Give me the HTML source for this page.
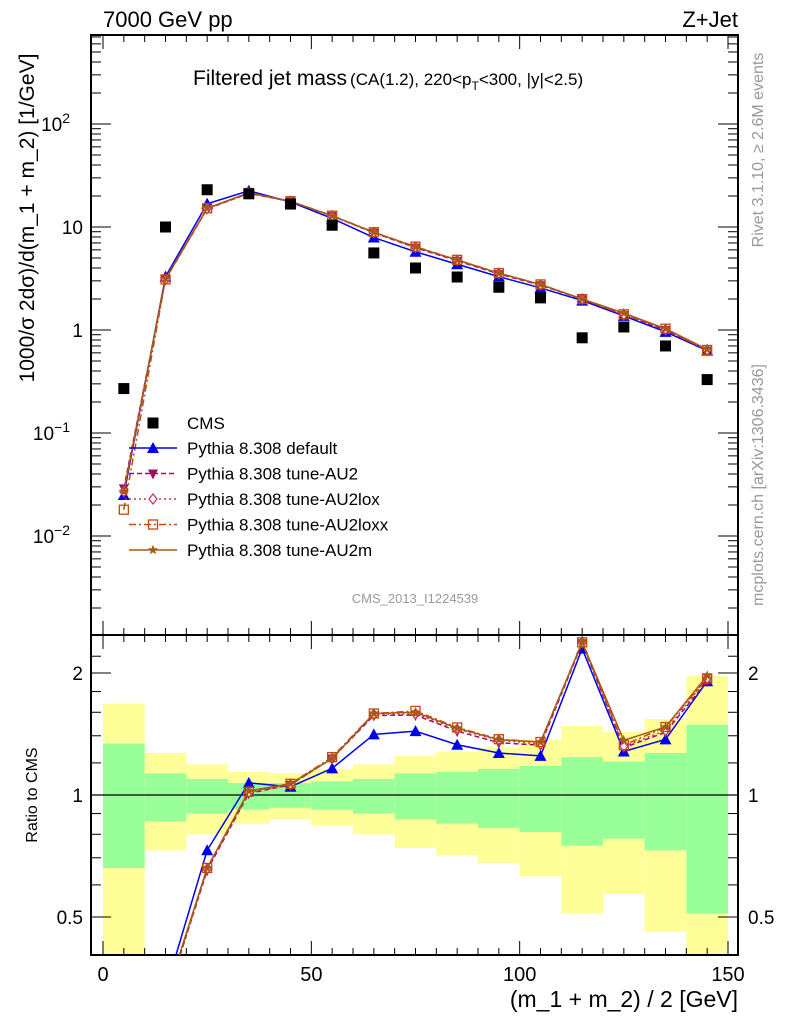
<!DOCTYPE html>
<html><head><meta charset="utf-8"><style>
html,body{margin:0;padding:0;background:#fff;width:786px;height:1024px;overflow:hidden;}
svg{display:block;font-family:"Liberation Sans",Arial,sans-serif;}
</style></head><body>
<svg id="c" width="786" height="1024" viewBox="0 0 786 1024" xmlns="http://www.w3.org/2000/svg"></svg>
<script>
const binCenters=[5,15,25,35,45,55,65,75,85,95,105,115,125,135,145];
const cmsValues=[0.27,10,23,21,16.7,10.4,5.6,4.0,3.27,2.6,2.05,0.84,1.07,0.70,0.33];
const defaultValues=[0.025,3.3,16.8,22.5,17.5,12.1,7.9,5.75,4.35,3.3,2.56,1.93,1.37,0.96,0.63];
const au2Values=[0.029,3.1,15.0,21.2,17.7,12.8,8.8,6.3,4.7,3.5,2.72,1.99,1.40,1.00,0.63];
const au2loxValues=[0.027,3.1,15.1,21.3,17.7,12.8,8.85,6.35,4.75,3.55,2.74,2.0,1.41,1.01,0.64];
const au2loxxValues=[0.018,3.1,15.2,21.4,17.8,12.9,8.9,6.45,4.8,3.57,2.77,2.0,1.42,1.03,0.64];
const au2mValues=[0.027,3.15,15.2,21.5,17.8,12.8,8.9,6.4,4.78,3.56,2.77,2.0,1.46,1.03,0.65];
const binEdges=[0,10,20,30,40,50,60,70,80,90,100,110,120,130,140,150];
const yellowHi=[1.68,1.27,1.19,1.14,1.13,1.16,1.19,1.25,1.28,1.31,1.37,1.48,1.43,1.54,1.97];
const yellowLo=[0.3,0.73,0.80,0.85,0.87,0.84,0.80,0.74,0.71,0.68,0.63,0.51,0.57,0.46,0.3];
const greenHi=[1.34,1.13,1.095,1.07,1.07,1.08,1.095,1.13,1.14,1.16,1.18,1.24,1.21,1.27,1.49];
const greenLo=[0.66,0.86,0.90,0.92,0.93,0.92,0.90,0.87,0.85,0.83,0.81,0.75,0.78,0.73,0.51];
const xTicks=[0,50,100,150];
const ratioTicks=[0.5,1,2];

const NS="http://www.w3.org/2000/svg";
const svg=document.getElementById('c');
const L=91,R=738,T=35,MB=635,B=955;
const X=v=>103+v*(625/150);
const Y=v=>330-103*Math.log10(v);
const RY=v=>795-122*Math.log2(v);
function el(tag,a,parent){const e=document.createElementNS(NS,tag);for(const k in a)e.setAttribute(k,a[k]);(parent||svg).appendChild(e);return e;}
function txt(s,a,parent){const e=el('text',a,parent);e.textContent=s;return e;}

const bands=el('g',{});


const clip=el('clipPath',{id:'rc'});el('rect',{x:L,y:MB,width:R-L,height:B-MB},clip);
const clipM=el('clipPath',{id:'mc'});el('rect',{x:L,y:T,width:R-L,height:MB-T},clipM);
bands.setAttribute('clip-path','url(#rc)');
for(let i=0;i<binCenters.length;i++){
  const x0=X(binEdges[i]),x1=X(binEdges[i+1]);
  const y1=el('rect',{x:x0,y:RY(yellowHi[i]),width:x1-x0,height:RY(yellowLo[i])-RY(yellowHi[i]),fill:'#ffff99'},bands);
  
  
  const g1=el('rect',{x:x0,y:RY(greenHi[i]),width:x1-x0,height:RY(greenLo[i])-RY(greenHi[i]),fill:'#99ff99'},bands);
  
  
}
el('line',{x1:L,x2:R,y1:RY(1),y2:RY(1),stroke:'#000','stroke-width':1.2});

for(const [y0,y1] of [[T,MB],[MB,B]]){
  const f=el('rect',{x:L,y:y0,width:R-L,height:y1-y0,fill:'none',stroke:'#000','stroke-width':2});
  
  
}
for(let v=0;v<=150;v+=5){
  const x=X(v),big=v%50===0,len=big?14:7;
  el('line',{x1:x,x2:x,y1:T,y2:T+len,stroke:'#000'});
  el('line',{x1:x,x2:x,y1:MB,y2:MB-len,stroke:'#000'});
  el('line',{x1:x,x2:x,y1:MB,y2:MB+len,stroke:'#000'});
  el('line',{x1:x,x2:x,y1:B,y2:B-len,stroke:'#000'});
}
xTicks.forEach(v=>{const t=txt(String(v),{x:X(v),y:981,'font-size':20,'text-anchor':'middle'});
  
  });
for(let d=-3;d<=2;d++){
  for(let m=1;m<10;m++){
    const v=m*Math.pow(10,d),y=Y(v);
    if(y<T||y>MB)continue;
    const len=m===1?20:10;
    el('line',{x1:L,x2:L+len,y1:y,y2:y,stroke:'#000'});
    el('line',{x1:R,x2:R-len,y1:y,y2:y,stroke:'#000'});
  }
}
const yl=[[100,'10','2'],[10,'10',''],[1,'1',''],[0.1,'10','−1'],[0.01,'10','−2']];
yl.forEach(([v,b,e])=>{
  const t=el('text',{x:e?70:83,y:Y(v)+7,'font-size':19,'text-anchor':'end'});
  
  
  if(e){t.textContent=b;const s=el('tspan',{dy:-8,'font-size':14},t);s.textContent=e;}
  else{t.textContent=v===10?'10':'1';t.setAttribute('x',83);}
});
[0.4,0.5,0.6,0.7,0.8,0.9,1,1.2,1.4,1.6,1.8,2,2.2].forEach(v=>{
  const y=RY(v);if(y<MB||y>B)return;
  const big=[0.5,1,2].includes(v),len=big?20:10;
  el('line',{x1:L,x2:L+len,y1:y,y2:y,stroke:'#000'});
  el('line',{x1:R,x2:R-len,y1:y,y2:y,stroke:'#000'});
});
ratioTicks.forEach(v=>{
  const a=txt(String(v),{x:83,y:RY(v)+7,'font-size':19,'text-anchor':'end'});
  
  
  const b=txt(String(v),{x:748,y:RY(v)+7,'font-size':19});
  
  
});

function marker(kind,x,y,col,g){
  const s=5.5;
  if(kind==='sq')return el('rect',{x:x-s,y:y-s,width:2*s,height:2*s,fill:'#000'},g);
  if(kind==='tri')return el('polygon',{points:`${x},${y-6} ${x-6},${y+5} ${x+6},${y+5}`,fill:col},g);
  if(kind==='dtri')return el('polygon',{points:`${x},${y+6} ${x-5},${y-4} ${x+5},${y-4}`,fill:col},g);
  if(kind==='dia')return el('polygon',{points:`${x},${y-5} ${x-4},${y} ${x},${y+5} ${x+4},${y}`,fill:'#fff',stroke:col,'stroke-width':1.3},g);
  if(kind==='osq')return el('rect',{x:x-4.5,y:y-4.5,width:9,height:9,fill:'none',stroke:col,'stroke-width':1.3},g);
  if(kind==='star'){let p=[];for(let i=0;i<10;i++){const r=i%2?2.2:5.5,a=-Math.PI/2+i*Math.PI/5;p.push((x+r*Math.cos(a)).toFixed(1)+','+(y+r*Math.sin(a)).toFixed(1));}
    return el('polygon',{points:p.join(' '),fill:col},g);}
}
const series=[
 {name:'default',vals:defaultValues,col:'#0000ee',dash:'',m:'tri',label:'Pythia 8.308 default'},
 {name:'au2',vals:au2Values,col:'#a0105a',dash:'5,3',m:'dtri',label:'Pythia 8.308 tune-AU2'},
 {name:'au2lox',vals:au2loxValues,col:'#cc3366',dash:'2,3',m:'dia',label:'Pythia 8.308 tune-AU2lox'},
 {name:'au2loxx',vals:au2loxxValues,col:'#c04a10',dash:'7,3,2,3',m:'osq',label:'Pythia 8.308 tune-AU2loxx'},
 {name:'au2m',vals:au2mValues,col:'#a65a14',dash:'',m:'star',label:'Pythia 8.308 tune-AU2m'}
];
const mainG=el('g',{'clip-path':'url(#mc)'});
const ratG=el('g',{'clip-path':'url(#rc)'});
series.forEach(s=>{
  const g=el('g',{},mainG);
  
  
  const pts=s.vals.map((v,i)=>X(binCenters[i])+','+Y(v)).join(' ');
  el('polyline',{points:pts,fill:'none',stroke:s.col,'stroke-width':1.5,'stroke-dasharray':s.dash},g);
  s.vals.forEach((v,i)=>{const m=marker(s.m,X(binCenters[i]),Y(v),s.col,g);
    
    });
  const rg=el('g',{},ratG);
  
  
  const rp=s.vals.map((v,i)=>X(binCenters[i])+','+RY(v/cmsValues[i])).join(' ');
  el('polyline',{points:rp,fill:'none',stroke:s.col,'stroke-width':1.5,'stroke-dasharray':s.dash},rg);
  s.vals.forEach((v,i)=>{const m=marker(s.m,X(binCenters[i]),RY(v/cmsValues[i]),s.col,rg);
    
    });
});
const cg=el('g',{});


cmsValues.forEach((v,i)=>{const m=marker('sq',X(binCenters[i]),Y(v),'#000',cg);
  
  });

const lg=el('g',{});


const cmsE=el('g',{},lg);


marker('sq',153,423,'#000',cmsE);
txt('CMS',{x:187,y:429,'font-size':17},cmsE);
series.forEach((s,k)=>{
  const y=448+k*25.5;
  const e=el('g',{},lg);
  
  
  el('line',{x1:129,x2:177,y1:y,y2:y,stroke:s.col,'stroke-width':1.5,'stroke-dasharray':s.dash},e);
  marker(s.m,153,y,s.col,e);
  txt(s.label,{x:187,y:y+6,'font-size':17},e);
});

const tx=[
 ['7000 GeV pp',{x:103,y:27,'font-size':22},'energy-label'],
 ['Z+Jet',{x:738,y:27,'font-size':22,'text-anchor':'end'},'process-label'],
 ['CMS_2013_I1224539',{x:415,y:603,'font-size':13,fill:'#999','text-anchor':'middle'},'analysis-id'],
 ['(m_1 + m_2) / 2 [GeV]',{x:738,y:1007,'font-size':23,'text-anchor':'end'},'x-axis-title'],
];
tx.forEach(([s,a,n])=>{const t=txt(s,a);});
const title=el('text',{x:193,y:85,'font-size':21});


title.textContent='Filtered jet mass';
const t2=el('tspan',{'font-size':17,dx:3},title);t2.textContent='(CA(1.2), 220<p';
const t3=el('tspan',{'font-size':12,dy:5},title);t3.textContent='T';
const t4=el('tspan',{'font-size':17,dy:-5},title);t4.textContent='<300, |y|<2.5)';
const yt=txt('1000/σ 2dσ)/d(m_1 + m_2) [1/GeV]',{x:0,y:0,'font-size':21,'text-anchor':'middle',transform:'translate(34,218) rotate(-90)'});


const rt=txt('Ratio to CMS',{x:0,y:0,'font-size':16,'text-anchor':'middle',transform:'translate(37,795) rotate(-90)'});


const rv=txt('Rivet 3.1.10, ≥ 2.6M events',{x:0,y:0,'font-size':16,fill:'#999','text-anchor':'middle',transform:'translate(763,150) rotate(-90)'});


const mp=txt('mcplots.cern.ch [arXiv:1306.3436]',{x:0,y:0,'font-size':16,fill:'#999','text-anchor':'middle',transform:'translate(763,485) rotate(-90)'});


</script>
</body></html>
